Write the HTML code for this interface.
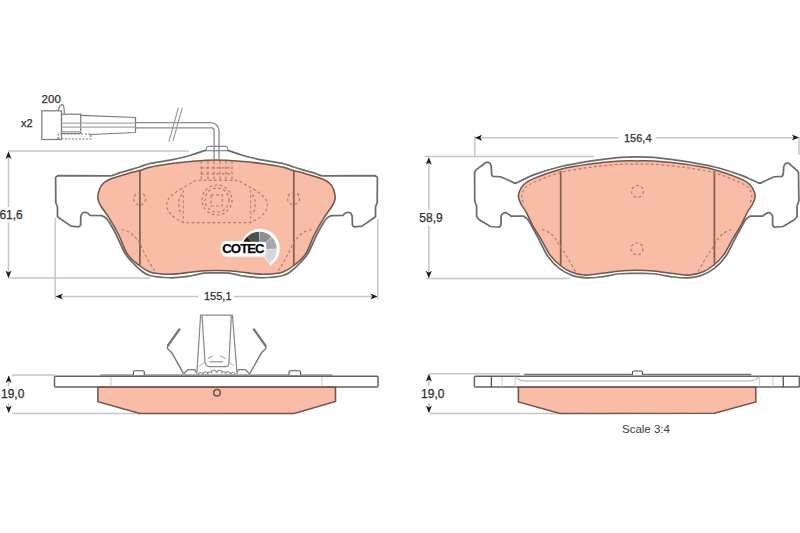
<!DOCTYPE html>
<html><head><meta charset="utf-8">
<style>
html,body{margin:0;padding:0;background:#fff;width:800px;height:533px;overflow:hidden}
svg{display:block}
text{font-family:"Liberation Sans",sans-serif;fill:#2e2e2e;stroke:#2e2e2e;stroke-width:0.25}
</style></head><body>
<svg width="800" height="533" viewBox="0 0 800 533">
<defs>
<path id="arrowR" d="M0 0 L-7 -3 L-5 0 L-7 3 Z" fill="#1a1a1a"/>
</defs>

<!-- ============ DIMENSION LINES ============ -->
<g stroke="#c6c6c6" stroke-width="1.5" fill="none">
  <!-- front pad 61,6 -->
  <line x1="8" y1="151" x2="189" y2="151"/>
  <line x1="8" y1="278" x2="150" y2="278"/>
  <line x1="8.5" y1="152" x2="8.5" y2="207"/>
  <line x1="8.5" y1="222.5" x2="8.5" y2="277"/>
  <!-- 155,1 -->
  <line x1="55.3" y1="218" x2="55.3" y2="299.5"/>
  <line x1="377.8" y1="219" x2="377.8" y2="299.5"/>
  <line x1="56" y1="296.5" x2="198.5" y2="296.5"/>
  <line x1="234" y1="296.5" x2="377" y2="296.5"/>
  <!-- back pad 156,4 -->
  <line x1="474.8" y1="136" x2="474.8" y2="157"/>
  <line x1="799" y1="137" x2="799" y2="155"/>
  <line x1="476" y1="137.8" x2="618.5" y2="137.8"/>
  <line x1="655.6" y1="137.8" x2="798" y2="137.8"/>
  <!-- 58,9 -->
  <line x1="425" y1="156.5" x2="594" y2="156.5"/>
  <line x1="426" y1="278.5" x2="570" y2="278.5"/>
  <line x1="428.8" y1="158" x2="428.8" y2="210"/>
  <line x1="428.8" y1="226" x2="428.8" y2="277"/>
  <!-- 19,0 left -->
  <line x1="12" y1="375" x2="55" y2="375"/>
  <line x1="12" y1="413.4" x2="140" y2="413.4"/>
  <line x1="8.7" y1="376" x2="8.7" y2="386"/>
  <line x1="8.7" y1="403" x2="8.7" y2="412"/>
  <!-- 19,0 right -->
  <line x1="429" y1="373.8" x2="520" y2="373.8"/>
  <line x1="429" y1="413.4" x2="560" y2="413.4"/>
  <line x1="428.9" y1="375" x2="428.9" y2="386"/>
  <line x1="428.9" y1="403" x2="428.9" y2="412"/>
</g>
<!-- arrows -->
<g fill="#1a1a1a">
  <path d="M8.5 151.5 L5.5 159 L8.5 157 L11.5 159 Z"/>
  <path d="M8.5 278 L5.5 270.5 L8.5 272.5 L11.5 270.5 Z"/>
  <path d="M55.8 296.5 L63 293.5 L61 296.5 L63 299.5 Z"/>
  <path d="M377.5 296.5 L370.3 293.5 L372.3 296.5 L370.3 299.5 Z"/>
  <path d="M475 137.8 L482.2 134.8 L480.2 137.8 L482.2 140.8 Z"/>
  <path d="M799 137.6 L791.8 134.6 L793.8 137.6 L791.8 140.6 Z"/>
  <path d="M428.8 157.3 L425.8 164.8 L428.8 162.8 L431.8 164.8 Z"/>
  <path d="M428.8 278.3 L425.8 270.8 L428.8 272.8 L431.8 270.8 Z"/>
  <path d="M8.7 375.5 L5.7 383 L8.7 381 L11.7 383 Z"/>
  <path d="M8.7 413 L5.7 405.5 L8.7 407.5 L11.7 405.5 Z"/>
  <path d="M428.9 374 L425.9 381.5 L428.9 379.5 L431.9 381.5 Z"/>
  <path d="M428.9 413 L425.9 405.5 L428.9 407.5 L431.9 405.5 Z"/>
</g>
<!-- dimension texts -->
<g font-size="11">
  <text x="-0.6" y="218.6" font-size="12">61,6</text>
  <text x="204" y="300.2">155,1</text>
  <text x="624" y="141.8">156,4</text>
  <text x="419.3" y="222.4" font-size="12">58,9</text>
  <text x="1" y="398.3" font-size="12">19,0</text>
  <text x="421.1" y="398.3" font-size="12">19,0</text>
  <text x="41.6" y="103" font-size="11.5">200</text>
  <text x="21" y="127.2">x2</text>
  <text x="622" y="432.8" font-size="11.5" style="stroke:none;fill:#3c3c3c">Scale 3:4</text>
</g>

<!-- ============ FRONT PAD (top-left) ============ -->
<g id="fp">
  <!-- pad fill -->
  <path id="fpPad" fill="#F9BDA7" stroke="#735549" stroke-width="1.55"
   d="M216.5 159.9 C207.67 159.9 197.75 160.85 190 161.5 C182.25 162.15 176.67 162.85 170 163.8 C163.33 164.75 155 166.08 150 167.2 C145 168.32 143.33 169.55 140 170.5 C136.67 171.45 133.33 172 130 172.9 C126.67 173.8 123.33 174.85 120 175.9 C116.67 176.95 112.67 178.05 110 179.2 C107.33 180.35 105.7 181.25 104 182.8 C102.3 184.35 100.82 186.3 99.8 188.5 C98.78 190.7 98.1 193.83 97.9 196 C97.7 198.17 97.95 199.58 98.6 201.5 C99.25 203.42 99.95 204.62 101.8 207.5 C103.65 210.38 106.87 214.22 109.7 218.8 C112.53 223.38 115.88 229.17 118.8 235 C121.72 240.83 123.92 248.8 127.2 253.8 C130.48 258.8 134.7 261.97 138.5 265 C142.3 268.03 146.42 270.54 150 272 C153.58 273.46 156.67 273.38 160 273.75 C163.33 274.12 166.67 274.29 170 274.25 C173.33 274.21 176.67 273.83 180 273.5 C183.33 273.17 186.03 272.7 190 272.25 C193.97 271.8 199.38 271.11 203.8 270.8 C208.22 270.49 212.27 270.4 216.5 270.4 C220.73 270.4 224.78 270.49 229.2 270.8 C233.62 271.11 239.03 271.8 243 272.25 C246.97 272.7 249.67 273.17 253 273.5 C256.33 273.83 259.67 274.21 263 274.25 C266.33 274.29 269.67 274.12 273 273.75 C276.33 273.38 279.42 273.46 283 272 C286.58 270.54 290.7 268.03 294.5 265 C298.3 261.97 302.52 258.8 305.8 253.8 C309.08 248.8 311.28 240.83 314.2 235 C317.12 229.17 320.47 223.38 323.3 218.8 C326.13 214.22 329.35 210.38 331.2 207.5 C333.05 204.62 333.75 203.42 334.4 201.5 C335.05 199.58 335.3 198.17 335.1 196 C334.9 193.83 334.22 190.7 333.2 188.5 C332.18 186.3 330.7 184.35 329 182.8 C327.3 181.25 325.67 180.35 323 179.2 C320.33 178.05 316.33 176.95 313 175.9 C309.67 174.85 306.33 173.8 303 172.9 C299.67 172 296.33 171.45 293 170.5 C289.67 169.55 288 168.32 283 167.2 C278 166.08 269.67 164.75 263 163.8 C256.33 162.85 250.75 162.15 243 161.5 C235.25 160.85 225.33 159.9 216.5 159.9 Z"/>
  <!-- backing plate outline -->
  <path fill="none" stroke="#6c6c6c" stroke-width="1.75" stroke-linejoin="round" d="M216.5 150.3 L205.4 150.3 C205.4 150.3 198.48 152.68 195 153.8 C191.52 154.92 188.67 155.95 184.5 157 C180.33 158.05 175.75 159.02 170 160.1 C164.25 161.18 155 162.39 150 163.5 C145 164.61 143.33 165.7 140 166.75 C136.67 167.8 133.33 168.81 130 169.8 C126.67 170.79 122.67 171.85 120 172.7 C117.33 173.55 115.45 174.39 114 174.9 C112.55 175.41 111.3 175.75 111.3 175.75 L57.8 175.7 L55.6 177.4 L55.8 202.5 L57.5 207 L57.5 216.8 L71 226.1 L78.8 226.9 L80.6 225.3 L80.8 216 C80.8 216 81.85 213.52 82.6 212.9 C83.35 212.28 84.37 212.18 85.3 212.3 C86.23 212.42 87.45 213.1 88.2 213.6 C88.95 214.1 89.8 215.3 89.8 215.3 L101.8 215.6 C101.8 215.6 104.93 216.98 106.3 218.3 C107.67 219.62 108.32 220.72 110 223.5 C111.68 226.28 113.93 230.08 116.4 235 C118.87 239.92 122.03 248.33 124.8 253 C127.57 257.67 130.3 260.08 133 263 C135.7 265.92 138.17 268.42 141 270.5 C143.83 272.58 145.17 274.29 150 275.5 C154.83 276.71 163.33 277.67 170 277.75 C176.67 277.83 184.37 276.76 190 276 C195.63 275.24 199.38 273.72 203.8 273.2 C208.22 272.68 212.27 272.9 216.5 272.9 C220.73 272.9 224.78 272.68 229.2 273.2 C233.62 273.72 237.37 275.24 243 276 C248.63 276.76 256.33 277.83 263 277.75 C269.67 277.67 278.17 276.71 283 275.5 C287.83 274.29 289.17 272.58 292 270.5 C294.83 268.42 297.3 265.92 300 263 C302.7 260.08 305.43 257.67 308.2 253 C310.97 248.33 314.13 239.92 316.6 235 C319.07 230.08 321.32 226.28 323 223.5 C324.68 220.72 325.33 219.62 326.7 218.3 C328.07 216.98 331.2 215.6 331.2 215.6 L343.2 215.3 C343.2 215.3 344.05 214.1 344.8 213.6 C345.55 213.1 346.77 212.42 347.7 212.3 C348.63 212.18 349.65 212.28 350.4 212.9 C351.15 213.52 352.2 216 352.2 216 L352.4 225.3 L354.2 226.9 L362 226.1 L375.5 216.8 L375.5 207 L377.2 202.5 L377.4 177.4 L375.2 175.7 L321.7 175.75 C321.7 175.75 320.45 175.41 319 174.9 C317.55 174.39 315.67 173.55 313 172.7 C310.33 171.85 306.33 170.79 303 169.8 C299.67 168.81 296.33 167.8 293 166.75 C289.67 165.7 288 164.61 283 163.5 C278 162.39 268.75 161.18 263 160.1 C257.25 159.02 252.67 158.05 248.5 157 C244.33 155.95 241.48 154.92 238 153.8 C234.52 152.68 227.6 150.3 227.6 150.3 L216.5 150.3 Z"/>
  <path d="M206.2 150.3 L206.6 147.6 Q206.9 146.4 208 146.4 L225.9 146.4 Q227 146.4 227.3 147.6 L227.7 150.3" fill="#fff" stroke="#8a8a8a" stroke-width="1.1"/>
  <!-- vertical dark lines -->
  <g stroke="#80604f" stroke-width="1.75">
    <line x1="139.9" y1="171" x2="139.9" y2="265"/>
    <line x1="293.8" y1="171" x2="293.8" y2="265"/>
  </g>
  <!-- wire -->
  <g fill="none" stroke="#8a8a8a" stroke-width="1.3">
    <path d="M135.5 122.6 L210.4 122.6 C215.5 122.6 219 126 219 131 L219 160"/>
    <path d="M135.5 127.9 L211.8 127.9 C213.3 127.9 214.1 129 214.1 130.5 L214.1 160"/>
    <path d="M182.2 108 L173 141 M178.3 108 L169 141.6" stroke="#9a9a9a" stroke-width="1.1"/>
  </g>
  <!-- connector -->
  <g fill="none" stroke="#7a7a7a" stroke-width="1.2">
    <rect x="41.8" y="110.8" width="19.7" height="28.7" fill="#fff"/>
    <path d="M58.2 110.8 C59 106 61 104.6 62.6 104.6 C64 105 64.3 108 64.3 113.6"/>
    <rect x="61.5" y="114.2" width="19.2" height="19.2"/>
    <path d="M80.7 115.3 L135.5 117.5 L135.5 132.5 L90 134.5"/>
    <path d="M61.5 123.2 L135.5 123.2 M61.5 127.2 L135.5 127.2 M61.5 131.7 L80.7 131.7" stroke="#a8a8a8"/>
    <path d="M58.2 139 L58.2 134 L90.8 134 L90.8 139 Z" stroke-dasharray="2 1.5"/>
  </g>
  <!-- dashed hidden lines -->
  <g fill="none" stroke="#b57a66" stroke-width="1.2" stroke-dasharray="2.8 2.4">
    <circle cx="139.6" cy="199" r="6"/>
    <circle cx="293.6" cy="198.5" r="6"/>
    <path d="M180 189.5 L196 180.3 L238 180.3 L254 189.5 C262.5 194.5 267.3 199 267.3 205 C267.3 211 262.5 216 256.5 219.5 L250.5 222.6 L183.5 222.6 L177.5 219.5 C171.5 216 166.7 211 166.7 205 C166.7 199 171.5 194.5 180 189.5 Z"/>
    <path d="M183.3 190 L183.3 222 M250.7 190 L250.7 222" stroke-width="1"/>
    <path d="M181.8 194.5 C177.8 199 177.8 210 181.8 214.5 M252.2 194.5 C256.2 199 256.2 210 252.2 214.5"/>
    <circle cx="217" cy="200" r="15"/>
    <circle cx="217" cy="200" r="12"/>
    <rect x="211" y="194.8" width="11.3" height="11.2"/>
    <path d="M201.3 161 L201.3 180 M208 161 L208 180 M214 161 L214 180 M220 161 L220 180 M226 161 L226 180 M232 161 L232 180"/>
    <path d="M201 167.8 L232 167.8 M201 173.8 L232 173.8"/>
    <path d="M121.5 229.5 C121.5 229.5 126.7 230.9 129 232.2 C131.3 233.5 133.52 235.5 135.3 237.3 C137.08 239.1 138.4 240.8 139.7 243 C141 245.2 141.72 247.67 143.1 250.5 C144.48 253.33 146.27 256.95 148 260 C149.73 263.05 152.25 266.8 153.5 268.8 C154.75 270.8 155.5 272 155.5 272"/>
    <path d="M311.5 229.5 C311.5 229.5 306.3 230.9 304 232.2 C301.7 233.5 299.48 235.5 297.7 237.3 C295.92 239.1 294.6 240.8 293.3 243 C292 245.2 291.28 247.67 289.9 250.5 C288.52 253.33 286.73 256.95 285 260 C283.27 263.05 280.75 266.8 279.5 268.8 C278.25 270.8 277.5 272 277.5 272"/>
  </g>
</g>

<!-- COTEC logo -->
<g transform="translate(0.6,1.4)">
  <path d="M226.3 239.6 L241.31 239.6 A19.70 19.70 0 1 1 270.83 263.22 L270.22 264.78 L263.2 255.3 L226.3 255.3 C221.8 255.3 219.8 252.3 219.8 247.45 C219.8 242.6 221.8 239.6 226.3 239.6 Z" fill="#fff"/>
  <path d="M246.40 235.40 A17.4 17.4 0 0 0 242.35 241.75 L253.06 245.65 A6.0 6.0 0 0 1 254.46 243.46 Z" fill="#1e1e1e"/>
  <path d="M258.46 230.30 A17.4 17.4 0 0 0 246.57 235.23 L254.52 243.40 A6.0 6.0 0 0 1 258.62 241.70 Z" fill="#505050"/>
  <path d="M270.83 235.23 A17.4 17.4 0 0 0 258.94 230.30 L258.78 241.70 A6.0 6.0 0 0 1 262.88 243.40 Z" fill="#8e8e8e"/>
  <path d="M276.10 247.46 A17.4 17.4 0 0 0 271.17 235.57 L263.00 243.52 A6.0 6.0 0 0 1 264.70 247.62 Z" fill="#a8a8a8"/>
  <path d="M268.68 261.95 A17.4 17.4 0 0 0 276.10 247.94 L264.70 247.78 A6.0 6.0 0 0 1 262.14 252.61 Z" fill="#d3d7db"/>
  <path d="M226.3 240.3 L250 240.3 L265 240.6 C266 244 266 251 264 254.6 L226.3 254.6 C222.3 254.6 220.6 251.9 220.6 247.45 C220.6 243 222.3 240.3 226.3 240.3 Z" fill="#fff"/>
  <text x="221.7" y="251.6" font-size="13.2" font-weight="bold" style="fill:#000" letter-spacing="-0.95">COTEC</text>
</g>

<!-- ============ BACK PAD (top-right) ============ -->
<g>
  <path fill="#F9BDA7" stroke="#735549" stroke-width="1.55" d="M636.8 160.9 C631.2 160.9 627.8 160.57 620 161.1 C612.2 161.63 600 162.72 590 164.1 C580 165.48 569.42 166.98 560 169.4 C550.58 171.82 539.48 176.13 533.5 178.6 C527.52 181.07 526.45 182.05 524.1 184.2 C521.75 186.35 520.32 189.24 519.4 191.5 C518.48 193.76 518.29 195.58 518.6 197.75 C518.91 199.92 520 202.12 521.25 204.5 C522.5 206.88 524.23 208.58 526.1 212 C527.98 215.42 529.97 220.4 532.5 225 C535.03 229.6 538.33 234.53 541.3 239.6 C544.27 244.67 547.12 251.08 550.3 255.4 C553.48 259.72 557.03 262.78 560.4 265.5 C563.77 268.22 566.57 270.1 570.5 271.7 C574.43 273.3 579.08 274.78 584 275.1 C588.92 275.42 594 274.3 600 273.6 C606 272.9 613.87 271.45 620 270.9 C626.13 270.35 631.2 270.3 636.8 270.3 C642.4 270.3 647.47 270.35 653.6 270.9 C659.73 271.45 667.6 272.9 673.6 273.6 C679.6 274.3 684.68 275.42 689.6 275.1 C694.52 274.78 699.17 273.3 703.1 271.7 C707.03 270.1 709.83 268.22 713.2 265.5 C716.57 262.78 720.12 259.72 723.3 255.4 C726.48 251.08 729.33 244.67 732.3 239.6 C735.27 234.53 738.57 229.6 741.1 225 C743.63 220.4 745.62 215.42 747.5 212 C749.37 208.58 751.1 206.88 752.35 204.5 C753.6 202.12 754.69 199.92 755 197.75 C755.31 195.58 755.12 193.76 754.2 191.5 C753.28 189.24 751.85 186.35 749.5 184.2 C747.15 182.05 746.08 181.07 740.1 178.6 C734.12 176.13 723.02 171.82 713.6 169.4 C704.18 166.98 693.6 165.48 683.6 164.1 C673.6 162.72 661.4 161.63 653.6 161.1 C645.8 160.57 642.4 160.9 636.8 160.9 Z"/>
  <path fill="none" stroke="#6c6c6c" stroke-width="1.75" stroke-linejoin="round" d="M636.8 156.8 C631.2 156.8 627.8 156.68 620 157.4 C612.2 158.12 600 159.54 590 161.1 C580 162.66 569.42 164.45 560 166.75 C550.58 169.05 540.5 172.31 533.5 174.9 C526.5 177.49 520.92 180.97 518 182.3 C515.08 183.63 516 182.9 516 182.9 L514.5 183.1 C514.5 183.1 506.38 179.31 504 178.25 C501.62 177.19 500.25 176.75 500.25 176.75 L492.75 176.4 L491.7 174.5 L491.2 166 C491.2 166 490.3 163.52 489.6 162.9 C488.9 162.28 487.6 162.37 487 162.3 C486.4 162.23 486 162.5 486 162.5 L476.25 169.6 L474.6 172.25 L474.75 201 L476.6 206.25 L476.6 216.75 L479.25 219.75 L490.5 226.5 L499.5 227.25 L501 225 L501 216 C501 216 502.25 213.97 503 213.4 C503.75 212.83 504.52 212.42 505.5 212.6 C506.48 212.78 508.02 213.93 508.9 214.5 C509.77 215.07 510.75 216 510.75 216 L523.5 216 C523.5 216 526.73 218.25 528 219.75 C529.27 221.25 529.27 221.69 531.1 225 C532.93 228.31 536.18 234.35 539 239.6 C541.82 244.85 544.62 251.7 548 256.5 C551.38 261.3 555.17 265.2 559.3 268.4 C563.43 271.6 568.3 274.12 572.8 275.7 C577.3 277.28 581.77 277.68 586.3 277.9 C590.83 278.12 594.38 277.69 600 277 C605.62 276.31 613.87 274.35 620 273.75 C626.13 273.15 631.2 273.4 636.8 273.4 C642.4 273.4 647.47 273.15 653.6 273.75 C659.73 274.35 667.98 276.31 673.6 277 C679.22 277.69 682.77 278.12 687.3 277.9 C691.83 277.68 696.3 277.28 700.8 275.7 C705.3 274.12 710.17 271.6 714.3 268.4 C718.43 265.2 722.22 261.3 725.6 256.5 C728.98 251.7 731.78 244.85 734.6 239.6 C737.42 234.35 740.67 228.31 742.5 225 C744.33 221.69 744.33 221.25 745.6 219.75 C746.87 218.25 750.1 216 750.1 216 L762.85 216 C762.85 216 763.82 215.07 764.7 214.5 C765.57 213.93 767.12 212.78 768.1 212.6 C769.08 212.42 769.85 212.83 770.6 213.4 C771.35 213.97 772.6 216 772.6 216 L772.6 225 L774.1 227.25 L783.1 226.5 L794.35 219.75 L797 216.75 L797 206.25 L798.85 201 L798.5 172.25 L796.85 170.4 L788.9 163.3 C788.9 163.3 788.5 163.03 787.9 163.1 C787.3 163.17 786 163.08 785.3 163.7 C784.6 164.32 783.7 166.8 783.7 166.8 L783.2 174.5 L782.15 176.4 L774.65 176.75 C774.65 176.75 773.27 177.19 770.9 178.25 C768.52 179.31 760.4 183.1 760.4 183.1 L758.9 182.9 C758.9 182.9 760.03 183.63 756.9 182.3 C753.77 180.97 747.32 177.49 740.1 174.9 C732.88 172.31 723.02 169.05 713.6 166.75 C704.18 164.45 693.6 162.66 683.6 161.1 C673.6 159.54 661.4 158.12 653.6 157.4 C645.8 156.68 642.4 156.8 636.8 156.8 Z"/>
  <g stroke="#80604f" stroke-width="1.75">
    <line x1="560.7" y1="171" x2="560.7" y2="265.5"/>
    <line x1="714.4" y1="171" x2="714.4" y2="265.5"/>
  </g>
  <g fill="none" stroke="#b57a66" stroke-width="1.2" stroke-dasharray="2.8 2.4">
    <circle cx="637.5" cy="191.4" r="6"/>
    <circle cx="637" cy="248.8" r="6"/>
    <path d="M523.4 202.5 C523.4 202.5 521.78 198.98 521.8 196.9 C521.82 194.82 522.47 191.88 523.5 190 C524.53 188.12 525.92 187.02 528 185.6 C530.08 184.18 530.67 183.67 536 181.5 C541.33 179.33 551 174.97 560 172.6 C569 170.23 580 168.68 590 167.3 C600 165.92 612.2 164.83 620 164.3 C627.8 163.77 631.2 164.1 636.8 164.1 C642.4 164.1 645.8 163.77 653.6 164.3 C661.4 164.83 673.6 165.92 683.6 167.3 C693.6 168.68 704.6 170.23 713.6 172.6 C722.6 174.97 732.27 179.33 737.6 181.5 C742.93 183.67 743.52 184.18 745.6 185.6 C747.68 187.02 749.07 188.12 750.1 190 C751.13 191.88 751.78 194.82 751.8 196.9 C751.82 198.98 750.2 202.5 750.2 202.5"/>
    <path d="M542 229.5 C542 229.5 547.58 231.25 549.9 232.9 C552.22 234.55 554.15 237.07 555.9 239.4 C557.65 241.73 558.75 244.33 560.4 246.9 C562.05 249.47 563.73 251.5 565.8 254.8 C567.87 258.1 571.18 263.92 572.8 266.7 C574.42 269.48 575.5 271.5 575.5 271.5"/>
    <path d="M731.6 229.5 C731.6 229.5 726.02 231.25 723.7 232.9 C721.38 234.55 719.45 237.07 717.7 239.4 C715.95 241.73 714.85 244.33 713.2 246.9 C711.55 249.47 709.87 251.5 707.8 254.8 C705.73 258.1 702.42 263.92 700.8 266.7 C699.18 269.48 698.1 271.5 698.1 271.5"/>
  </g>
</g>

<!-- ============ FRONT SIDE VIEW (bottom-left) ============ -->
<g>
  <rect x="54.5" y="376.2" width="323.5" height="10.8" rx="1" fill="#fff" stroke="#646464" stroke-width="1.5"/>
  <line x1="100" y1="375" x2="332.5" y2="375" stroke="#666" stroke-width="1.2"/>
  <g stroke="#ccc" stroke-width="1"><line x1="111" y1="377" x2="111" y2="386.5"/><line x1="322" y1="377" x2="322" y2="386.5"/></g>
  <path d="M97.9 387.3 L335.5 387.3 L335.5 401.5 L294.3 413.5 L139.9 413.5 L97.9 401.7 Z" fill="#F9BDA7" stroke="#735549" stroke-width="1.55"/>
  <circle cx="217" cy="392.7" r="3.3" fill="none" stroke="#735549" stroke-width="1.55"/>
  <path d="M133.4 375 L133.4 372 C133.4 371 134 370.8 135 370.8 L142.7 370.8 C143.7 370.8 144.3 371 144.3 372 L144.3 375" fill="#fff" stroke="#555" stroke-width="1.1"/>
  <path d="M289 375 L289 372 C289 371 289.6 370.8 290.6 370.8 L299 370.8 C300 370.8 300.6 371 300.6 372 L300.6 375" fill="#fff" stroke="#555" stroke-width="1.1"/>
  <!-- clip -->
  <g fill="none" stroke="#8a8a8a" stroke-width="1.25">
    <path d="M196.8 374 L200.6 315.1 L232.4 315.1 L237.1 374"/>
    <path d="M202 315.5 L205 362 C205.5 365 207 366.6 209.5 366.6 L226 366.6 C228 366.6 229 365 229 362 L231.3 315.5"/>
    <path d="M209.5 361.8 L223 361.8" stroke="#999"/>
    <g id="sprL"><path d="M179.4 329.4 L167.8 345.6 Q166.6 347.6 168.4 349.6 L171.8 352.8 L183.4 373.4" stroke="#7a7a7a" stroke-width="1.4"/><path d="M179.4 329.4 L168 345.4" stroke="#777" stroke-width="2.4" stroke-linecap="round"/><path d="M183.6 374 L185.8 371.8 L188.2 369.6 L194.9 369.6 L196 372.5" stroke="#7a7a7a" stroke-width="1.2"/></g>
    <use href="#sprL" transform="translate(433.3,0) scale(-1,1)"/>
    
    
    <path d="M198.5 374.5 A2 2 0 0 1 202.5 374.5 M203.3 374 A2.2 2.2 0 0 1 207.7 374 M208.2 373.5 A1.8 1.8 0 0 1 211.8 373.5 M211.3 372.8 A2.6 2.6 0 0 1 216.5 372.8 M217.0 372.8 A2.6 2.6 0 0 1 222.2 372.8 M221.8 373.5 A1.8 1.8 0 0 1 225.4 373.5 M225.8 374 A2.2 2.2 0 0 1 230.2 374 M231.0 374.5 A2 2 0 0 1 235.0 374.5" stroke="#8a8a8a" stroke-width="1.1"/><path d="M199 366 L205.5 362 M234.5 366 L228 362" stroke="#bbb" stroke-width="1"/>
    <path d="M212.6 355.7 L207.8 358.5 M220.1 355.7 L225.4 358.5" stroke="#aaa"/>
  </g>
</g>

<!-- ============ BACK SIDE VIEW (bottom-right) ============ -->
<g>
  <rect x="474.4" y="376.2" width="325" height="10.8" rx="1" fill="#fff" stroke="#646464" stroke-width="1.5"/>
  <line x1="524" y1="374.5" x2="751.3" y2="374.5" stroke="#777" stroke-width="1.6"/>
  <path d="M515 376.5 C517 379 520 381 526 381 L749 381 C754 381 757 379 759.6 376.5" fill="none" stroke="#aaa" stroke-width="1"/>
  <g stroke="#555" stroke-width="1.3"><line x1="491.4" y1="376" x2="491.4" y2="387.3"/><line x1="783.3" y1="376" x2="783.3" y2="387.3"/></g>
  <g stroke="#ccc" stroke-width="1"><line x1="502" y1="377" x2="502" y2="386.5"/><line x1="515" y1="377" x2="515" y2="386.5"/><line x1="759.6" y1="377" x2="759.6" y2="386.5"/><line x1="773" y1="377" x2="773" y2="386.5"/></g>
  <path d="M518.4 387.3 L755.8 387.3 L755.8 402 L714.5 413.3 L560 413.5 L518.4 402 Z" fill="#F9BDA7" stroke="#735549" stroke-width="1.55"/>
  <path d="M632.5 375 L632.5 372 C632.5 371.3 633 371 634 371 L641 371 C642 371 642.5 371.3 642.5 372 L642.5 375" fill="#fff" stroke="#555" stroke-width="1.1"/>
</g>
</svg>
</body></html>
